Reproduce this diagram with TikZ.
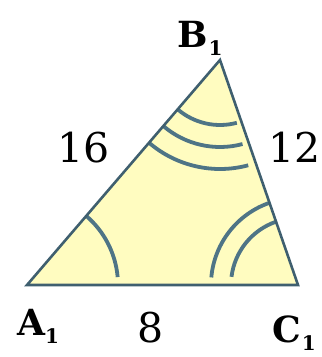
\documentclass[tikz,border=0pt]{standalone}
\usepackage{fontspec}
\setmainfont{DejaVu Serif}
\definecolor{edgec}{HTML}{3F5F6F}
\definecolor{arcc}{HTML}{4E7486}
\definecolor{fillc}{HTML}{FFFCC0}
\begin{document}
\begin{tikzpicture}[x=1pt,y=1pt,
  edge/.style={draw=edgec,line width=2.6pt,line join=miter},
  markarc/.style={draw=arcc,line width=3.8pt},
  lettr/.style={inner sep=0pt,anchor=base west,font=\fontsize{36}{36}\selectfont\bfseries},
  num/.style={inner sep=0pt,anchor=base,font=\fontsize{41}{41}\selectfont}]
\useasboundingbox (0,0) rectangle (322,357);
\coordinate (A) at (27,72);
\coordinate (B) at (220,297);
\coordinate (C) at (298,72);
\fill[fillc] (A)--(B)--(C)--cycle;
% angle marks
\draw[markarc] (A) ++(49.4:91) arc[start angle=49.4,end angle=5,radius=91];
\draw[markarc] (C) ++(109.1:87) arc[start angle=109.1,end angle=175,radius=87];
\draw[markarc] (C) ++(109.1:67) arc[start angle=109.1,end angle=173,radius=67];
\foreach \r in {65,87,109}
  \draw[markarc] (B) ++(229.4:\r) arc[start angle=229.4,end angle=285,radius=\r];
\draw[edge] (A)--(B)--(C)--cycle;
% labels
\node[lettr] (lA) at (17,21) {A\raisebox{-8pt}{\fontsize{20}{20}\selectfont 1}};
\node[lettr] (lB) at (177,309) {B\kern1pt\raisebox{-8pt}{\fontsize{20}{20}\selectfont 1}};
\node[lettr] (lC) at (272,14) {C\kern1pt\raisebox{-8pt}{\fontsize{20}{20}\selectfont 1}};
\node[num] (l16) at (84,194) {16};
\node[num] (l12) at (295,194) {12};
\node[num] (l8) at (151,14) {8};
\end{tikzpicture}
\end{document}
